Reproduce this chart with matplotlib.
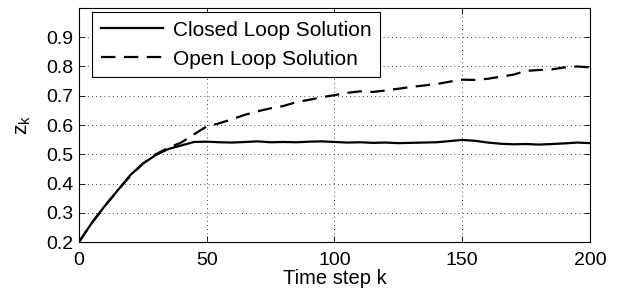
import matplotlib
matplotlib.use("Agg")
import matplotlib.pyplot as plt

plt.rcParams['font.family'] = ['Liberation Sans', 'DejaVu Sans']
plt.rcParams['mathtext.fontset'] = 'custom'
plt.rcParams['mathtext.rm'] = 'Liberation Sans'

k = [0, 5, 10, 15, 20, 25, 30, 35, 40, 45, 50, 55, 60, 65, 70, 75, 80, 85, 90, 95, 100,
     105, 110, 115, 120, 125, 130, 135, 140, 145, 150, 155, 160, 165, 170, 175, 180, 185, 190, 195, 200]
closed_loop = [0.200, 0.265, 0.322, 0.375, 0.428, 0.468, 0.497, 0.518, 0.530, 0.542, 0.543,
               0.541, 0.540, 0.542, 0.544, 0.541, 0.542, 0.541, 0.543, 0.544, 0.542,
               0.540, 0.541, 0.539, 0.540, 0.538, 0.539, 0.540, 0.541, 0.545, 0.549,
               0.546, 0.540, 0.536, 0.534, 0.535, 0.533, 0.535, 0.537, 0.540, 0.538]
open_loop = [0.200, 0.265, 0.322, 0.375, 0.425, 0.468, 0.500, 0.522, 0.540, 0.568, 0.595,
             0.606, 0.620, 0.635, 0.647, 0.657, 0.665, 0.678, 0.686, 0.695, 0.702,
             0.710, 0.715, 0.713, 0.718, 0.724, 0.730, 0.735, 0.740, 0.748, 0.755,
             0.754, 0.758, 0.765, 0.772, 0.785, 0.788, 0.790, 0.797, 0.800, 0.797]

xticks = [0, 50, 100, 150, 200]
yticks = [0.2, 0.3, 0.4, 0.5, 0.6, 0.7, 0.8, 0.9]
ytick_labels = ['0.2', '0.3', '0.4', '0.5', '0.6', '0.7', '0.8', '0.9']

fig = plt.figure(figsize=(6.23, 2.96), dpi=100)
ax = fig.add_axes([0.1268, 0.1824, 0.8202, 0.7906])

ax.plot(k, closed_loop, color='black', lw=1.6, linestyle='-', label='Closed Loop Solution')
ax.plot(k, open_loop, color='black', lw=1.6, linestyle=(0, (6.5, 3.8)), label='Open Loop Solution')

ax.set_xlim(0, 200)
ax.set_ylim(0.2, 1.0)
ax.set_xticks(xticks)
ax.set_yticks(yticks)
ax.set_yticklabels(ytick_labels)
ax.tick_params(direction='in', top=True, right=True, labelsize=14, length=4, width=0.6)
ax.tick_params(axis='x', pad=7)
ax.tick_params(axis='y', pad=4)
ax.grid(True, color='black', linestyle=(0, (1, 4)), linewidth=0.6)
for s in ax.spines.values():
    s.set_linewidth(0.8)

ax.set_xlabel('Time step k', fontsize=14.5, labelpad=0)
ax.set_ylabel(r'$\mathregular{z_k}$', fontsize=15)
ax.yaxis.set_label_coords(-0.09, 0.5)

leg = ax.legend(loc='upper left', fontsize=15, frameon=True, fancybox=False,
                edgecolor='black', framealpha=1, borderaxespad=0,
                bbox_to_anchor=(0.0254, 0.983),
                handlelength=3.0, handletextpad=0.45, borderpad=0.42, labelspacing=0.48)
leg.get_frame().set_linewidth(0.8)

fig.savefig('out.png', dpi=100)
